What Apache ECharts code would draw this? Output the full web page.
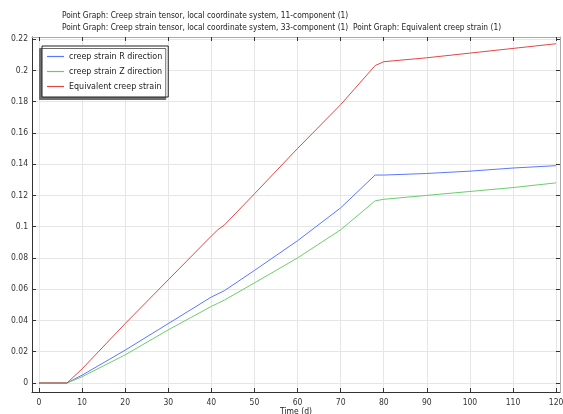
<!DOCTYPE html>
<html><head><meta charset="utf-8">
<script src="https://cdn.jsdelivr.net/npm/echarts@6/dist/echarts.min.js"></script>
<style>html,body{margin:0;padding:0;background:#fff}#c{width:563px;height:414px}</style>
</head><body><div id="c"></div>
<script>
const time = [0, 6.5, 10, 20, 30, 40, 41.5, 43, 50, 60, 70, 78, 80, 90, 100, 110, 120];
const strainR = [0, 0, 0.005, 0.021, 0.038, 0.055, 0.057, 0.059, 0.072, 0.091, 0.112, 0.133, 0.133, 0.134, 0.1355, 0.1375, 0.139];
const strainZ = [0, 0, 0.004, 0.018, 0.034, 0.049, 0.051, 0.053, 0.064, 0.080, 0.098, 0.1165, 0.1175, 0.120, 0.1225, 0.125, 0.128];
const strainEq = [0, 0, 0.009, 0.038, 0.066, 0.094, 0.098, 0.101, 0.121, 0.150, 0.178, 0.203, 0.2055, 0.208, 0.211, 0.214, 0.217];
const xTicks = [0, 10, 20, 30, 40, 50, 60, 70, 80, 90, 100, 110, 120];
const yTicks = [0, 0.02, 0.04, 0.06, 0.08, 0.1, 0.12, 0.14, 0.16, 0.18, 0.2, 0.22];
const seriesNames = ['creep strain R direction', 'creep strain Z direction', 'Equivalent creep strain'];
const seriesColors = ['#5a78ff', '#6ccc6c', '#e04848'];
const titleLines = ['Point Graph: Creep strain tensor, local coordinate system, 11-component (1)',
  'Point Graph: Creep strain tensor, local coordinate system, 33-component (1)  Point Graph: Equivalent creep strain (1)'];

const zip = (xs, ys) => xs.map((x, i) => [x, ys[i]]);
const font = 'DejaVu Sans';
const cfont = '"DejaVu Sans Condensed", "DejaVu Sans"';
const chart = echarts.init(document.getElementById('c'), null, {renderer: 'canvas'});
const xMin = -1.62, xMax = 120.9, yMin = -0.00576, yMax = 0.2213;
chart.setOption({
  animation: false,
  textStyle: {fontFamily: font},
  title: {text: titleLines.join('\n'), left: 57, top: 5,
    textStyle: {fontSize: 8.3, fontWeight: 'normal', color: '#222', lineHeight: 12, fontFamily: cfont}},
  grid: {left: 32, right: 3, top: 37, bottom: 22, containLabel: false, outerBoundsMode: 'none'},
  legend: {orient: 'vertical', left: 42, top: 46, padding: [6, 6, 6, 5], itemGap: 6,
    itemWidth: 17, itemHeight: 11, icon: 'path://M0,0 L17,0 L17,1.2 L0,1.2 Z',
    lineStyle: {width: 0, opacity: 0},
    backgroundColor: '#fff', borderColor: '#222', borderWidth: 1,
    shadowColor: 'rgba(110,110,110,1)', shadowOffsetX: -2.5, shadowOffsetY: 2.5, shadowBlur: 0,
    textStyle: {fontSize: 8.9, color: '#222', fontFamily: cfont},
    data: seriesNames.map((n, i) => ({name: n, itemStyle: {color: seriesColors[i], borderWidth: 0}}))},
  xAxis: [{type: 'value', min: xMin, max: xMax, name: 'Time (d)', nameLocation: 'middle', nameGap: 15,
    nameMoveOverlap: false,
    nameTextStyle: {fontSize: 8.5, color: '#222', fontFamily: cfont},
    axisLine: {onZero: false, lineStyle: {color: '#333'}},
    axisTick: {inside: true, length: 4, customValues: xTicks, lineStyle: {color: '#333'}},
    axisLabel: {customValues: xTicks, fontSize: 8.5, color: '#333', margin: 6, fontFamily: cfont},
    splitLine: {show: true, lineStyle: {color: '#e6e6e6'}}},
    {type: 'value', position: 'top', min: xMin, max: xMax,
    axisLine: {show: true, onZero: false, lineStyle: {color: '#aaa'}},
    axisTick: {inside: true, length: 4, customValues: xTicks, lineStyle: {color: '#333'}},
    axisLabel: {show: false}, splitLine: {show: false}}],
  yAxis: [{type: 'value', min: yMin, max: yMax,
    axisLine: {show: true, onZero: false, lineStyle: {color: '#333'}},
    axisTick: {show: true, inside: true, length: 4, customValues: yTicks, lineStyle: {color: '#333'}},
    axisLabel: {customValues: yTicks, fontSize: 8.5, color: '#333', margin: 4, fontFamily: cfont},
    splitLine: {show: true, lineStyle: {color: '#e6e6e6'}}},
    {type: 'value', position: 'right', min: yMin, max: yMax,
    axisLine: {show: true, onZero: false, lineStyle: {color: '#aaa'}},
    axisTick: {show: true, inside: true, length: 4, customValues: yTicks, lineStyle: {color: '#333'}},
    axisLabel: {show: false}, splitLine: {show: false}}],
  series: [
    {name: seriesNames[0], type: 'line', data: zip(time, strainR), symbol: 'none', color: seriesColors[0], lineStyle: {width: 1}},
    {name: seriesNames[1], type: 'line', data: zip(time, strainZ), symbol: 'none', color: seriesColors[1], lineStyle: {width: 1}},
    {name: seriesNames[2], type: 'line', data: zip(time, strainEq), symbol: 'none', color: seriesColors[2], lineStyle: {width: 1}}
  ]
});
</script></body></html>
